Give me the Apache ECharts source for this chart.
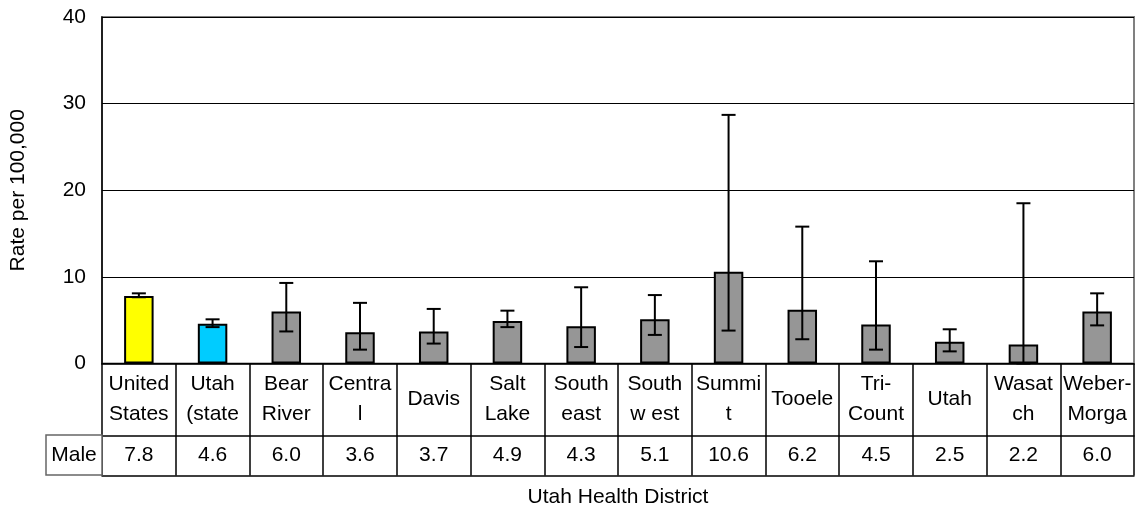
<!DOCTYPE html>
<html>
<head>
<meta charset="utf-8">
<script src="https://cdn.jsdelivr.net/npm/echarts@6/dist/echarts.min.js"></script>
<style>html,body{margin:0;padding:0;background:#fff;}#c{width:1140px;height:512px;}</style>
</head>
<body>
<div id="c"></div>
<script>
var categories = ["United\nStates", "Utah\n(state", "Bear\nRiver", "Centra\nl", "Davis", "Salt\nLake", "South\neast", "South\nw est", "Summi\nt", "Tooele", "Tri-\nCount", "Utah", "Wasat\nch", "Weber-\nMorga"];
var maleRates = [7.8, 4.6, 6.0, 3.6, 3.7, 4.9, 4.3, 5.1, 10.6, 6.2, 4.5, 2.5, 2.2, 6.0];
var lowerCI = [7.65, 4.2, 3.7, 1.6, 2.3, 4.2, 1.9, 3.3, 3.8, 2.8, 1.6, 1.4, 0, 4.4];
var upperCI = [8.1, 5.1, 9.3, 7.0, 6.3, 6.1, 8.8, 7.9, 28.7, 15.8, 11.8, 3.95, 18.5, 8.1];
var barColors = ["#FFFF00", "#00CCFF", "#969696", "#969696", "#969696", "#969696", "#969696", "#969696", "#969696", "#969696", "#969696", "#969696", "#969696", "#969696"];
var yTicks = [0, 10, 20, 30, 40];
var rowLabel = "Male";

var FONT = "'Liberation Sans', Arial, sans-serif";
var FS = 21;
var chart = echarts.init(document.getElementById('c'), null, {renderer: 'canvas'});

var errData = categories.map(function (c, i) { return [i, lowerCI[i], upperCI[i]]; });
var valueLabels = maleRates.map(function (v) { return v.toFixed(1); });

var option = {
  animation: false,
  backgroundColor: '#fff',
  textStyle: {fontFamily: FONT},
  grid: {left: 102, right: 6, top: 17, bottom: 148.5, show: true, borderColor: '#808080', borderWidth: 2, containLabel: false, outerBoundsMode: 'none'},
  xAxis: [
    {
      type: 'category', data: categories, position: 'bottom',
      axisLine: {show: true, lineStyle: {color: '#000', width: 1.5}},
      axisTick: {show: true, length: 112, lineStyle: {color: '#000', width: 1.5}},
      axisLabel: {fontFamily: FONT, fontSize: FS, color: '#000', lineHeight: 30, verticalAlign: 'middle', margin: 36, interval: 0},
      splitLine: {show: false}
    },
    {
      type: 'category', data: valueLabels, position: 'bottom', offset: 72,
      axisLine: {show: true, lineStyle: {color: '#000', width: 1.5}},
      axisTick: {show: false},
      axisLabel: {fontFamily: FONT, fontSize: FS, color: '#000', verticalAlign: 'middle', margin: 20, interval: 0}
    },
    {
      type: 'category', data: valueLabels, position: 'bottom', offset: 112,
      axisLine: {show: true, lineStyle: {color: '#000', width: 1.5}},
      axisTick: {show: false},
      axisLabel: {show: false},
      name: 'Utah Health District', nameLocation: 'middle', nameGap: 22,
      nameTextStyle: {fontFamily: FONT, fontSize: FS, color: '#000', verticalAlign: 'middle'}
    }
  ],
  yAxis: {
    type: 'value', min: yTicks[0], max: yTicks[yTicks.length - 1], interval: 10,
    axisLine: {show: true, lineStyle: {color: '#000', width: 1.5}},
    axisTick: {show: false},
    axisLabel: {fontFamily: FONT, fontSize: FS, color: '#000', margin: 16},
    splitLine: {show: true, lineStyle: {color: '#000', width: 1}},
    name: 'Rate per 100,000', nameLocation: 'middle', nameGap: 84, nameRotate: 90,
    nameTextStyle: {fontFamily: FONT, fontSize: FS, color: '#000', verticalAlign: 'middle'}
  },
  graphic: [
    {type: 'rect', shape: {x: 46, y: 435, width: 56, height: 40}, style: {fill: '#fff', stroke: '#666', lineWidth: 1.5}, z: 10},
    {type: 'text', x: 74, y: 455, style: {text: rowLabel, fontFamily: FONT, fontSize: FS, fill: '#000', align: 'center', verticalAlign: 'middle'}, z: 11}
  ],
  series: [
    {
      type: 'bar', xAxisIndex: 0, barWidth: '40%',
      data: maleRates.map(function (v, i) { return {value: v, itemStyle: {color: barColors[i]}}; }),
      itemStyle: {borderColor: '#000', borderWidth: 2},
      z: 2
    },
    {
      type: 'custom', xAxisIndex: 0, data: errData, z: 5,
      renderItem: function (params, api) {
        var x = api.value(0);
        var lo = api.coord([x, api.value(1)]);
        var hi = api.coord([x, api.value(2)]);
        var hw = 7;
        var st = {stroke: '#000', lineWidth: 2};
        return {type: 'group', children: [
          {type: 'line', shape: {x1: hi[0], y1: hi[1], x2: lo[0], y2: lo[1]}, style: st},
          {type: 'line', shape: {x1: hi[0] - hw, y1: hi[1], x2: hi[0] + hw, y2: hi[1]}, style: st},
          {type: 'line', shape: {x1: lo[0] - hw, y1: lo[1], x2: lo[0] + hw, y2: lo[1]}, style: st}
        ]};
      }
    }
  ]
};
chart.setOption(option);
</script>
</body>
</html>
